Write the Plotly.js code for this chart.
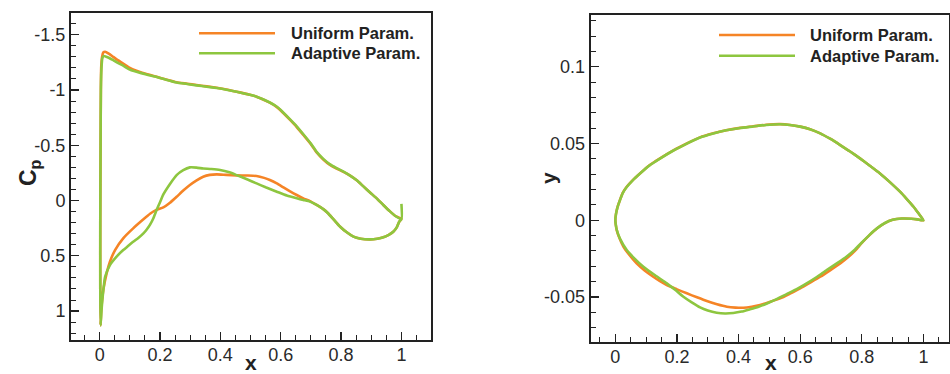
<!DOCTYPE html>
<html>
<head>
<meta charset="utf-8">
<script src="https://cdn.plot.ly/plotly-3.0.1.min.js"></script>
<style>
html,body{margin:0;padding:0;background:#fff;}
#chart{width:950px;height:374px;}
</style>
</head>
<body>
<div id="chart"></div>
<script>
// ---------- Data: pressure coefficient (left panel) ----------
const seriesNames = ["Uniform Param.", "Adaptive Param."];

const cpX_uniform = [1.0,0.98,0.962,0.94,0.918,0.896,0.874,0.852,0.83,0.808,0.785,0.762,0.741,0.719,0.70,0.675,0.653,0.631,0.60,0.585,0.564,0.545,0.52,0.498,0.475,0.454,0.42,0.388,0.355,0.321,0.29,0.255,0.22,0.189,0.155,0.122,0.10,0.078,0.06,0.045,0.03,0.018,0.012,0.008,0.005,0.004,0.003,0.002,0.002,0.003,
  0.005,0.008,0.012,0.023,0.034,0.051,0.078,0.111,0.145,0.167,0.188,0.211,0.233,0.255,0.277,0.299,0.32,0.343,0.365,0.388,0.42,0.454,0.49,0.52,0.545,0.564,0.587,0.609,0.631,0.653,0.675,0.697,0.719,0.741,0.755,0.775,0.797,0.82,0.841,0.865,0.896,0.92,0.94,0.958,0.973,0.985,0.993,1.0];
const cp_uniform = [0.165,0.14,0.098,0.04,-0.02,-0.073,-0.128,-0.183,-0.226,-0.26,-0.29,-0.325,-0.372,-0.435,-0.51,-0.593,-0.665,-0.729,-0.815,-0.85,-0.885,-0.91,-0.94,-0.957,-0.972,-0.985,-1.005,-1.02,-1.033,-1.045,-1.057,-1.07,-1.095,-1.12,-1.145,-1.175,-1.2,-1.24,-1.27,-1.30,-1.33,-1.347,-1.34,-1.3,-1.2,-1.0,-0.5,0.2,0.8,1.13,
  1.0,0.9,0.81,0.66,0.554,0.448,0.342,0.252,0.17,0.12,0.085,0.062,0.02,-0.034,-0.09,-0.14,-0.18,-0.215,-0.232,-0.237,-0.232,-0.228,-0.226,-0.222,-0.205,-0.186,-0.155,-0.119,-0.083,-0.05,-0.02,0.005,0.04,0.078,0.11,0.17,0.237,0.29,0.327,0.345,0.351,0.345,0.333,0.31,0.282,0.24,0.19,0.165];

const cpX_adaptive = [1.0,1.0,0.98,0.962,0.94,0.918,0.896,0.874,0.852,0.83,0.808,0.785,0.762,0.741,0.719,0.70,0.675,0.653,0.631,0.60,0.585,0.564,0.545,0.52,0.498,0.475,0.454,0.42,0.388,0.355,0.321,0.29,0.255,0.22,0.189,0.155,0.122,0.10,0.078,0.06,0.045,0.03,0.014,0.009,0.006,0.004,0.003,0.002,0.002,0.003,
  0.006,0.01,0.018,0.034,0.056,0.078,0.095,0.111,0.128,0.145,0.156,0.167,0.178,0.188,0.2,0.211,0.233,0.255,0.277,0.299,0.321,0.343,0.37,0.399,0.43,0.454,0.49,0.52,0.55,0.587,0.62,0.653,0.675,0.697,0.719,0.741,0.755,0.775,0.797,0.82,0.841,0.865,0.896,0.92,0.94,0.958,0.973,0.985,0.993,1.0];
const cp_adaptive = [0.03,0.17,0.14,0.098,0.04,-0.02,-0.073,-0.128,-0.183,-0.226,-0.262,-0.294,-0.33,-0.377,-0.44,-0.515,-0.6,-0.672,-0.735,-0.82,-0.853,-0.887,-0.912,-0.94,-0.957,-0.971,-0.984,-1.003,-1.018,-1.03,-1.042,-1.055,-1.068,-1.093,-1.118,-1.14,-1.165,-1.185,-1.22,-1.245,-1.27,-1.292,-1.308,-1.29,-1.2,-1.0,-0.5,0.2,0.8,1.13,
  1.0,0.87,0.69,0.584,0.508,0.448,0.41,0.373,0.338,0.297,0.262,0.218,0.16,0.09,0.015,-0.055,-0.15,-0.23,-0.275,-0.30,-0.298,-0.29,-0.285,-0.276,-0.255,-0.23,-0.19,-0.155,-0.12,-0.08,-0.045,-0.02,-0.005,0.01,0.04,0.078,0.11,0.17,0.237,0.29,0.327,0.345,0.351,0.345,0.333,0.31,0.282,0.24,0.19,0.17];

// ---------- Data: airfoil geometry (right panel) ----------
const geoX_uniform = [1.0,0.984,0.968,0.946,0.924,0.892,0.859,0.826,0.794,0.762,0.73,0.697,0.665,0.632,0.6,0.567,0.535,0.49,0.448,0.405,0.36,0.318,0.275,0.232,0.19,0.145,0.11,0.08,0.055,0.037,0.024,0.015,0.007,0.002,0.0,
  0.0015,0.0045,0.012,0.026,0.045,0.069,0.095,0.123,0.145,0.167,0.2,0.232,0.265,0.297,0.33,0.362,0.39,0.416,0.443,0.47,0.50,0.535,0.567,0.60,0.632,0.665,0.697,0.73,0.757,0.78,0.80,0.825,0.85,0.875,0.90,0.93,0.96,0.98,1.0];
const geoY_uniform = [0.0,0.0045,0.0088,0.0138,0.0186,0.0247,0.0305,0.0355,0.0403,0.0448,0.049,0.0531,0.0566,0.0593,0.061,0.0621,0.0626,0.0622,0.0612,0.0602,0.0587,0.0566,0.054,0.050,0.0457,0.0403,0.0357,0.0305,0.0258,0.0218,0.0178,0.0132,0.0085,0.004,0.0,
  -0.003,-0.0064,-0.011,-0.0172,-0.0225,-0.0281,-0.0327,-0.0368,-0.0397,-0.0422,-0.045,-0.0476,-0.0502,-0.0526,-0.0547,-0.0563,-0.0569,-0.057,-0.0563,-0.0552,-0.0533,-0.0509,-0.0478,-0.0444,-0.0407,-0.0368,-0.0326,-0.0281,-0.0238,-0.0195,-0.0148,-0.0097,-0.0052,-0.0018,0.0003,0.0011,0.0010,0.0006,0.0];

const geoX_adaptive = [1.0,0.984,0.968,0.946,0.924,0.892,0.859,0.826,0.794,0.762,0.73,0.697,0.665,0.632,0.6,0.567,0.535,0.49,0.448,0.405,0.36,0.318,0.275,0.232,0.19,0.145,0.11,0.08,0.055,0.037,0.024,0.015,0.007,0.002,0.0,
  0.0015,0.0045,0.015,0.037,0.06,0.091,0.13,0.167,0.195,0.221,0.248,0.275,0.30,0.329,0.356,0.383,0.41,0.437,0.465,0.492,0.525,0.556,0.59,0.621,0.655,0.686,0.72,0.751,0.778,0.80,0.825,0.85,0.875,0.90,0.93,0.96,0.98,1.0];
const geoY_adaptive = [0.0,0.0045,0.0088,0.0138,0.0186,0.0247,0.0305,0.0355,0.0403,0.0448,0.049,0.0531,0.0566,0.0593,0.061,0.0621,0.0625,0.0621,0.0611,0.0601,0.0586,0.0565,0.0539,0.0499,0.0456,0.0402,0.0356,0.0304,0.0257,0.0217,0.0177,0.0131,0.0084,0.004,0.0,
  -0.003,-0.0062,-0.012,-0.0194,-0.0245,-0.0303,-0.036,-0.0411,-0.0455,-0.0498,-0.0535,-0.0568,-0.0588,-0.0602,-0.0607,-0.0604,-0.0595,-0.058,-0.0563,-0.0542,-0.0512,-0.0481,-0.0447,-0.0411,-0.0368,-0.0324,-0.0279,-0.0236,-0.019,-0.0145,-0.0095,-0.0051,-0.0018,0.0003,0.0011,0.0010,0.0006,0.0];

// ---------- Tick labels ----------
const cpTickVals = [-1.5,-1,-0.5,0,0.5,1];
const cpTickText = ["-1.5","-1","-0.5","0","0.5","1"];
const xTickVals = [0,0.2,0.4,0.6,0.8,1];
const xTickText = ["0","0.2","0.4","0.6","0.8","1"];
const geoYTickVals = [-0.05,0,0.05,0.1];
const geoYTickText = ["-0.05","0","0.05","0.1"];

const colors = ["#F58426", "#8DC63F"];
const FONT = "Liberation Sans, Arial, Helvetica, sans-serif";

const lineStyle = (c) => ({color: c, width: 2.6, shape: "spline", smoothing: 0.5});

const traces = [
  {x: cpX_uniform, y: cp_uniform, xaxis: "x", yaxis: "y", mode: "lines", name: seriesNames[0], line: lineStyle(colors[0]), showlegend: false},
  {x: cpX_adaptive, y: cp_adaptive, xaxis: "x", yaxis: "y", mode: "lines", name: seriesNames[1], line: lineStyle(colors[1]), showlegend: false},
  {x: geoX_uniform, y: geoY_uniform, xaxis: "x2", yaxis: "y2", mode: "lines", name: seriesNames[0], line: lineStyle(colors[0]), showlegend: false},
  {x: geoX_adaptive, y: geoY_adaptive, xaxis: "x2", yaxis: "y2", mode: "lines", name: seriesNames[1], line: lineStyle(colors[1]), showlegend: false}
];

const axisBase = {
  showline: true, linecolor: "#222", linewidth: 2, mirror: true,
  ticks: "inside", ticklen: 8, tickwidth: 1.3, tickcolor: "#222",
  showgrid: false, zeroline: false,
  tickfont: {family: FONT, size: 18, color: "#2a2a2a"},
  tickmode: "array"
};
const minorX = {ticks: "inside", ticklen: 5, tickwidth: 1, tickcolor: "#222", tickmode: "linear", tick0: 0, dtick: 0.05};

const W = 950, H = 374;
const px = (p) => p / W;
const py = (p) => 1 - p / H;

const legendFont = {family: FONT, size: 16.5, color: "#222"};
const titleFont = {family: FONT, size: 21, color: "#222"};

const layout = {
  width: W, height: H,
  margin: {l: 0, r: 0, t: 0, b: 0},
  paper_bgcolor: "#fff", plot_bgcolor: "#fff",
  showlegend: false,
  xaxis: Object.assign({}, axisBase, {
    domain: [px(71), px(431)], anchor: "y",
    range: [-0.095, 1.098], tickvals: xTickVals, ticktext: xTickText,
    ticklabelstandoff: -3, minor: minorX
  }),
  yaxis: Object.assign({}, axisBase, {
    domain: [py(340), py(13)], anchor: "x",
    range: [1.262, -1.697], tickvals: cpTickVals, ticktext: cpTickText,
    minor: {ticks: "inside", ticklen: 5, tickwidth: 1, tickcolor: "#222", tickmode: "linear", tick0: 0, dtick: 0.1}
  }),
  xaxis2: Object.assign({}, axisBase, {
    domain: [px(590.7), px(949.3)], anchor: "y2",
    range: [-0.08, 1.084], tickvals: xTickVals, ticktext: xTickText,
    ticklabelstandoff: -3, minor: minorX
  }),
  yaxis2: Object.assign({}, axisBase, {
    domain: [py(342), py(14.7)], anchor: "x2",
    range: [-0.0793, 0.1339], tickvals: geoYTickVals, ticktext: geoYTickText,
    minor: {ticks: "inside", ticklen: 5, tickwidth: 1, tickcolor: "#222", tickmode: "linear", tick0: 0, dtick: 0.01}
  }),
  shapes: [
    {type: "line", xref: "paper", yref: "paper", x0: px(199), x1: px(275), y0: py(33.3), y1: py(33.3), line: {color: colors[0], width: 2.6}},
    {type: "line", xref: "paper", yref: "paper", x0: px(199), x1: px(275), y0: py(53.3), y1: py(53.3), line: {color: colors[1], width: 2.6}},
    {type: "line", xref: "paper", yref: "paper", x0: px(719), x1: px(795), y0: py(35), y1: py(35), line: {color: colors[0], width: 2.6}},
    {type: "line", xref: "paper", yref: "paper", x0: px(719), x1: px(795), y0: py(55.7), y1: py(55.7), line: {color: colors[1], width: 2.6}}
  ],
  annotations: [
    {xref: "paper", yref: "paper", x: px(289), y: py(33.3), xanchor: "left", yanchor: "middle", showarrow: false, text: "<b>" + seriesNames[0] + "</b>", font: legendFont},
    {xref: "paper", yref: "paper", x: px(289), y: py(53.3), xanchor: "left", yanchor: "middle", showarrow: false, text: "<b>" + seriesNames[1] + "</b>", font: legendFont},
    {xref: "paper", yref: "paper", x: px(808), y: py(35), xanchor: "left", yanchor: "middle", showarrow: false, text: "<b>" + seriesNames[0] + "</b>", font: legendFont},
    {xref: "paper", yref: "paper", x: px(808), y: py(55.7), xanchor: "left", yanchor: "middle", showarrow: false, text: "<b>" + seriesNames[1] + "</b>", font: legendFont},
    {xref: "paper", yref: "paper", x: px(29), y: py(173), xanchor: "center", yanchor: "middle", showarrow: false, textangle: -90, text: "<b>C<sub>p</sub></b>", font: {family: FONT, size: 23, color: "#222"}},
    {xref: "paper", yref: "paper", x: px(251), y: 0, xanchor: "center", yanchor: "bottom", yshift: -2, showarrow: false, text: "<b>x</b>", font: titleFont},
    {xref: "paper", yref: "paper", x: px(548), y: py(178), xanchor: "center", yanchor: "middle", showarrow: false, textangle: -90, text: "<b>y</b>", font: titleFont},
    {xref: "paper", yref: "paper", x: px(771), y: 0, xanchor: "center", yanchor: "bottom", yshift: -2, showarrow: false, text: "<b>x</b>", font: titleFont}
  ]
};

Plotly.newPlot("chart", traces, layout, {displayModeBar: false, staticPlot: true});
</script>
</body>
</html>
